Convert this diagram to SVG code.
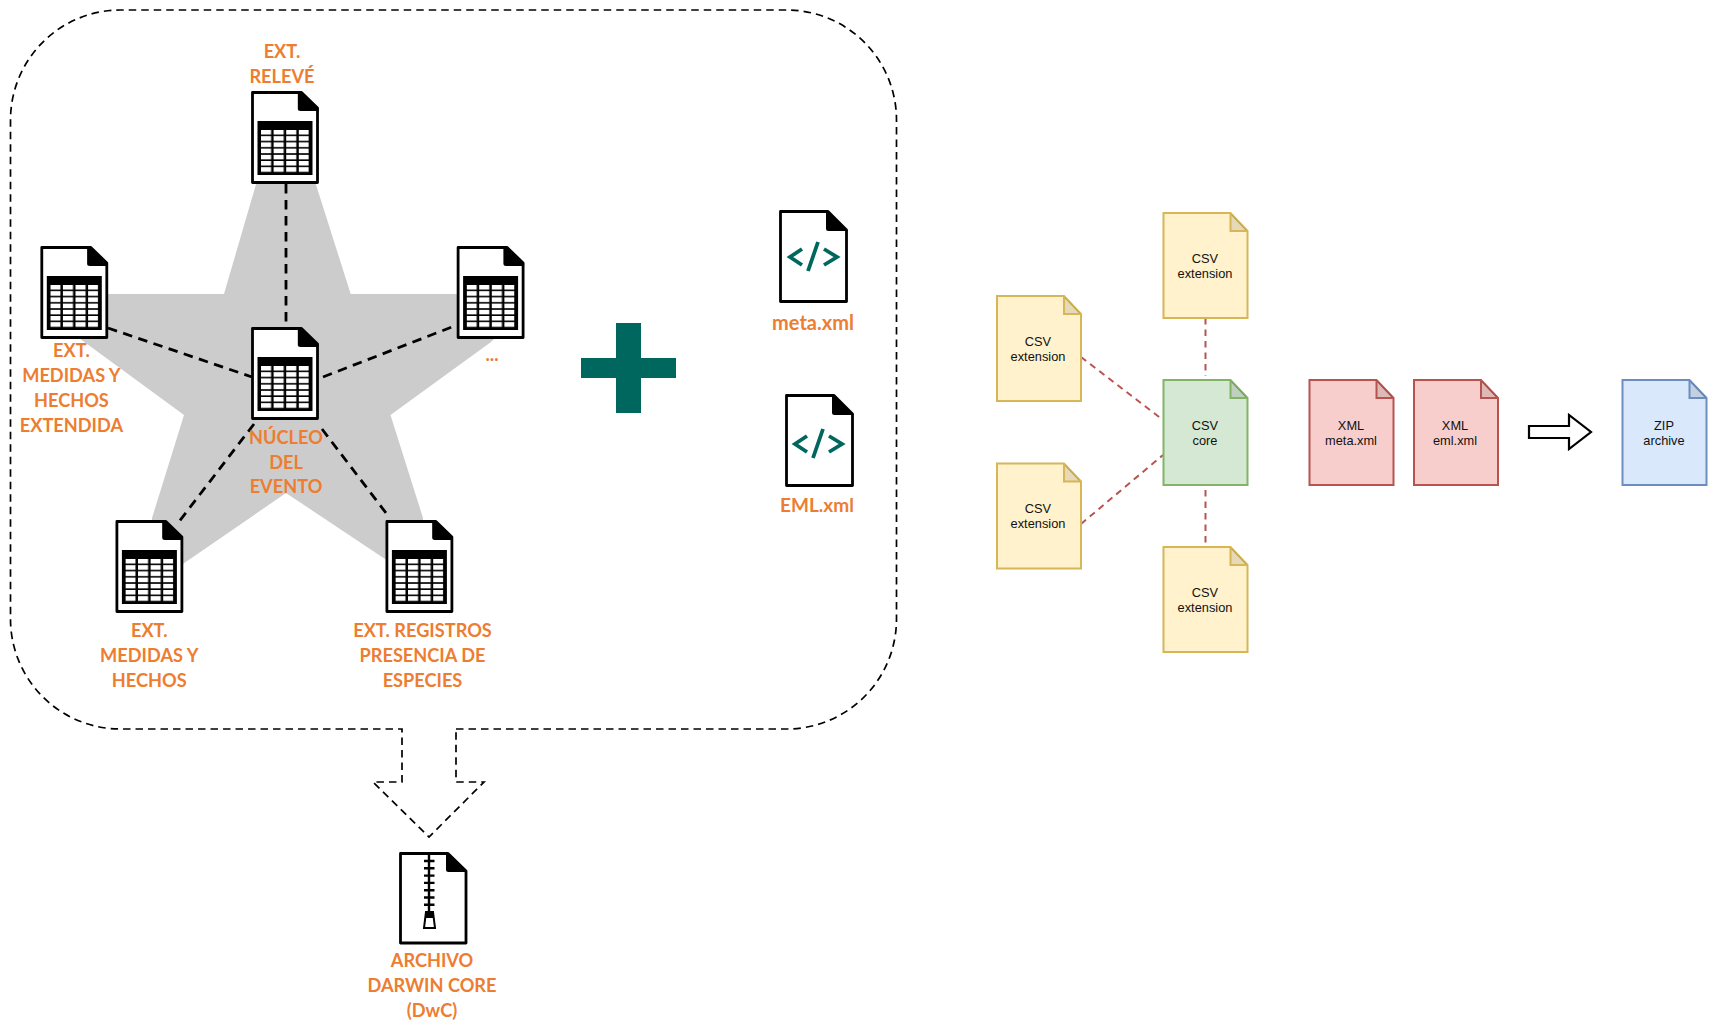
<svg xmlns="http://www.w3.org/2000/svg" width="1710" height="1021" viewBox="0 0 1710 1021">
<style>
.lbl{font-family:"Lato","Open Sans","Liberation Sans",sans-serif;font-weight:700;font-size:18.200px;fill:#ED7D31;text-anchor:middle}
.xl{font-size:20px}
.eml{font-size:19px}
.txt{font-family:"Liberation Sans",Arial,sans-serif;font-size:12.800px;fill:#111;text-anchor:middle}
.outline{fill:#fff;stroke:#000;stroke-width:2.800;stroke-linejoin:round}
.ink{fill:#000}
.code{fill:none;stroke:#00675F;stroke-width:3.800}
.blk{fill:none;stroke:#000;stroke-width:2.800;stroke-dasharray:9.500 6.500}
.red{fill:none;stroke:#B85450;stroke-width:2;stroke-dasharray:6.500 5}
.y{fill:#FFF2CC;stroke:#D6B656}
.g{fill:#D5E8D4;stroke:#82B366}
.r{fill:#F8CECC;stroke:#B85450}
.b{fill:#DAE8FC;stroke:#6C8EBF}
.f{stroke-width:2;stroke-linejoin:miter}
</style>
<defs>
<pattern id="cells" width="12.600" height="6.200" patternUnits="userSpaceOnUse" x="10" y="39"><rect width="10.100" height="4.600" fill="#fff"/></pattern>
<g id="blank"><path class="outline" d="M1.500,1.500H50.500L66.500,17V91.500H1.500Z"/><path class="ink" d="M46.800,1.500H50.500L67.500,17V20H49.500Q46.800,20 46.800,17.500Z"/></g>
<g id="sheet"><use href="#blank"/><rect class="ink" x="6.500" y="30" width="55" height="54"/><rect x="10" y="39" width="47.900" height="43" fill="url(#cells)"/></g>
<g id="xmlicon"><path class="outline" d="M1.500,1.500H49L67.500,20V91.500H1.500Z"/><path class="ink" d="M47,1.500H49L68.500,20V21H49.500Q47,21 47,18.500Z"/></g>
<path id="code" class="code" d="M23,39L11,47L23,55M45,39L58,47L45,55M39,32L29,61"/>
<g id="paper"><path d="M0,0H67L84,18V105H0Z"/><path d="M67,0V18H84" style="fill:#000;fill-opacity:.1"/></g>
</defs>

<g id="frame"><path d="M456,729H787A110,110 0 0 0 896.500,619V120A110,110 0 0 0 787,10H120A110,110 0 0 0 10.500,120V619A110,110 0 0 0 120,729H402V782H373L429,837L484,782H456Z" fill="none" stroke="#000" stroke-width="1.700" stroke-dasharray="7.500 5"/></g>
<g id="star"><path d="M224,294L266,150H305L350.700,294H482L498,335L491,342L390.500,415L423,518L423,530L391,563L286,493L177,568L152,530L152,518L184,415L85.700,343L75,335L64,294Z" fill="#CCCCCC"/></g>

<g id="connectors">
<path class="blk" d="M286,184V327"/>
<path class="blk" d="M108,328L252,377"/>
<path class="blk" d="M323,377L457,325"/>
<path class="blk" d="M254,424L178,523"/>
<path class="blk" d="M322,429L386,513"/>
<path class="red" d="M1205.500,318V376"/>
<path class="red" d="M1081,357L1163,420"/>
<path class="red" d="M1081,524L1163,455"/>
<path class="red" d="M1205.500,490V547"/>
</g>

<g id="ext-releve"><use href="#sheet" x="251" y="91"/><text class="lbl" x="282" y="58">EXT.</text><text class="lbl" x="282" y="83">RELEVÉ</text></g>
<g id="ext-medidas-extendida"><use href="#sheet" x="40.300" y="246"/><text class="lbl" x="71.400" y="357">EXT.</text><text class="lbl" x="71.400" y="382">MEDIDAS Y</text><text class="lbl" x="71.400" y="407">HECHOS</text><text class="lbl" x="71.400" y="432">EXTENDIDA</text></g>
<g id="ext-otros"><use href="#sheet" x="456.600" y="246"/><text class="lbl" x="492" y="361">...</text></g>
<g id="nucleo"><use href="#sheet" x="251" y="327"/><text class="lbl" x="286" y="443.500">NÚCLEO</text><text class="lbl" x="286" y="469">DEL</text><text class="lbl" x="286" y="493">EVENTO</text></g>
<g id="ext-medidas"><use href="#sheet" x="115.400" y="520"/><text class="lbl" x="149.300" y="637">EXT.</text><text class="lbl" x="149.300" y="662">MEDIDAS Y</text><text class="lbl" x="149.300" y="687">HECHOS</text></g>
<g id="ext-registros"><use href="#sheet" x="385.400" y="520"/><text class="lbl" x="422.500" y="637">EXT. REGISTROS</text><text class="lbl" x="422.500" y="662">PRESENCIA DE</text><text class="lbl" x="422.500" y="687">ESPECIES</text></g>

<g id="plus"><path d="M616,323H641V358H676V378H641V413H616V378H581V358H616Z" fill="#00675F"/></g>
<g id="meta-xml"><use href="#xmlicon" x="779" y="210"/><use href="#code" x="779" y="210"/><text class="lbl xl" x="813" y="329.500">meta.xml</text></g>
<g id="eml-xml"><use href="#xmlicon" x="785" y="394"/><use href="#code" x="784" y="397"/><text class="lbl eml" x="817" y="511.500">EML.xml</text></g>

<g id="dwc">
<path class="outline" d="M400.500,853.500H448L466,871V943H400.500Z"/>
<path class="ink" d="M446,853.500H448L467,871V872H448.500Q446,872 446,869.500Z"/>
<path d="M429,853V912M424,861H434.500M424,868.300H434.500M424,875.600H434.500M424,882.900H434.500M424,890.200H434.500M424,897.500H434.500M424,904.800H434.500" fill="none" stroke="#000" stroke-width="2.400"/>
<path d="M426,912H433L435,928H424Z" fill="#fff" stroke="#000" stroke-width="2"/>
<path d="M426,911H433L433.500,918H425.500Z" fill="#000"/>
<text class="lbl" x="432" y="966.500">ARCHIVO</text><text class="lbl" x="432" y="992">DARWIN CORE</text><text class="lbl" x="432" y="1017">(DwC)</text>
</g>

<g id="csv-ext-top"><use href="#paper" x="1163.500" y="213" class="y f"/><text class="txt" x="1205" y="263">CSV</text><text class="txt" x="1205" y="278">extension</text></g>
<g id="csv-ext-upper"><use href="#paper" x="997" y="296" class="y f"/><text class="txt" x="1038" y="346">CSV</text><text class="txt" x="1038" y="361">extension</text></g>
<g id="csv-ext-lower"><use href="#paper" x="997" y="463.500" class="y f"/><text class="txt" x="1038" y="513">CSV</text><text class="txt" x="1038" y="528">extension</text></g>
<g id="csv-core"><use href="#paper" x="1163.500" y="380" class="g f"/><text class="txt" x="1205" y="430">CSV</text><text class="txt" x="1205" y="445">core</text></g>
<g id="csv-ext-bottom"><use href="#paper" x="1163.500" y="547" class="y f"/><text class="txt" x="1205" y="597">CSV</text><text class="txt" x="1205" y="612">extension</text></g>
<g id="xml-meta"><use href="#paper" x="1309.500" y="380" class="r f"/><text class="txt" x="1351" y="430">XML</text><text class="txt" x="1351" y="445">meta.xml</text></g>
<g id="xml-eml"><use href="#paper" x="1414" y="380" class="r f"/><text class="txt" x="1455" y="430">XML</text><text class="txt" x="1455" y="445">eml.xml</text></g>
<g id="arrow"><path d="M1529,426H1569V415L1591,432L1569,449V438H1529Z" fill="#fff" stroke="#000" stroke-width="2.200"/></g>
<g id="zip"><use href="#paper" x="1622.500" y="380" class="b f"/><text class="txt" x="1664" y="430">ZIP</text><text class="txt" x="1664" y="445">archive</text></g>
</svg>
